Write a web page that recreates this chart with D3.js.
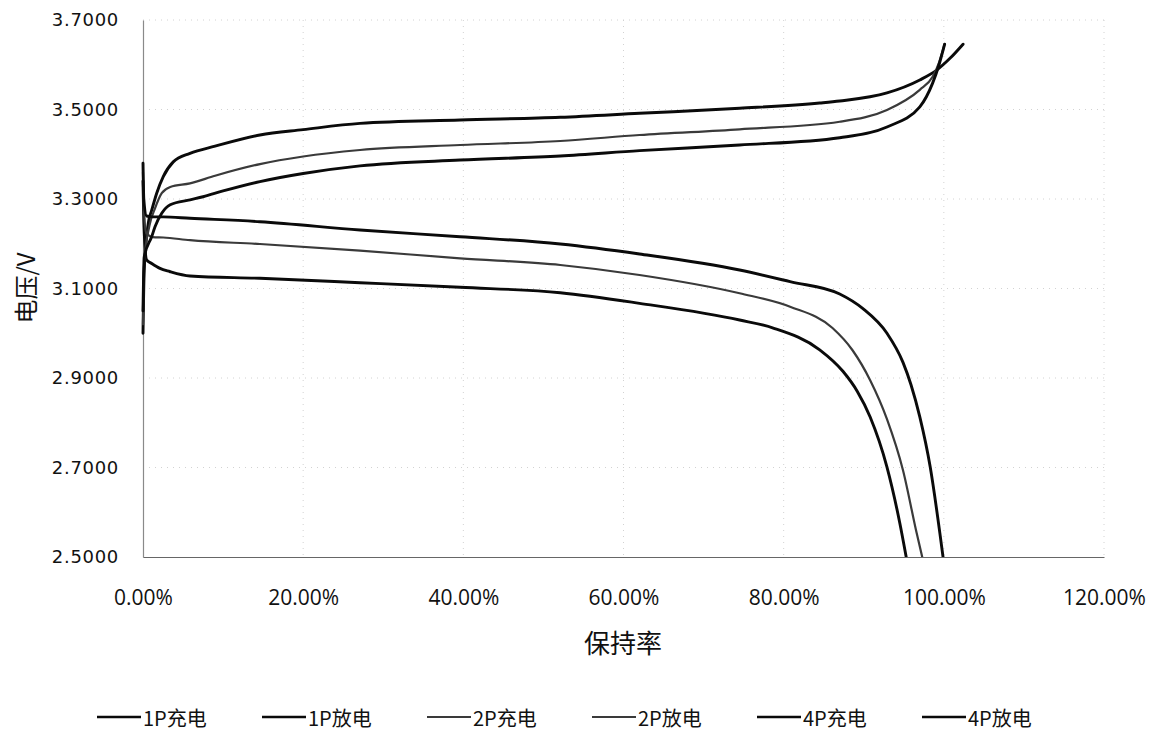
<!DOCTYPE html>
<html>
<head>
<meta charset="utf-8">
<script src="https://cdn.jsdelivr.net/npm/d3@7"></script>
<style>
  html, body { margin: 0; padding: 0; background: #fff; }
  svg { display: block; }
</style>
</head>
<body>
<svg id="chart" width="1155" height="735"></svg>
<script>
// Retention (%) vs. voltage (V) for charge / discharge at 1P, 2P and 4P
const xTicks = [0, 20, 40, 60, 80, 100, 120];
const yTicks = [2.5, 2.7, 2.9, 3.1, 3.3, 3.5, 3.7];

const charge1P = [[0,3.00],[0.15,3.14],[0.66,3.246],[1.09,3.275],[1.71,3.313],[2.53,3.350],[3.78,3.383],[5.87,3.402],[9,3.418],[14.6,3.443],[20,3.455],[27.1,3.469],[39.6,3.4765],[52.1,3.4826],[62.0,3.4915],[74.5,3.5027],[84.5,3.5145],[87.0,3.519],[92.9,3.537],[97.0,3.566],[99.1,3.588],[100.8,3.615],[102.4,3.646]];
const discharge1P = [[0,3.34],[0.1,3.25],[0.45,3.164],[1.09,3.156],[2.12,3.145],[3.33,3.138],[5.87,3.128],[14.6,3.1228],[27.1,3.113],[39.6,3.1027],[52.1,3.0906],[62.0,3.0669],[74.5,3.0296],[78.7,3.0117],[84.5,2.963],[87.4,2.915],[89.2,2.87],[90.8,2.813],[92.9,2.701],[94.5,2.576],[95.3,2.5]];
const charge2P = [[0,3.02],[0.15,3.16],[0.8,3.24],[1.5,3.279],[2.34,3.313],[3.4,3.327],[5.87,3.335],[9,3.352],[14.6,3.378],[20,3.395],[27.1,3.4095],[39.6,3.4207],[52.1,3.4296],[62.0,3.443],[74.5,3.4558],[87.0,3.4727],[92.9,3.499],[97.0,3.544],[98.6,3.573],[99.4,3.605],[100.1,3.646]];
const discharge2P = [[0,3.36],[0.1,3.28],[0.4,3.225],[1.2,3.215],[2.53,3.214],[5.87,3.208],[14.6,3.1994],[27.1,3.1845],[39.6,3.1675],[52.1,3.1525],[62.0,3.1302],[74.5,3.0893],[80.8,3.0593],[86.1,3.0117],[88.6,2.962],[90.8,2.895],[92.9,2.808],[94.9,2.694],[96.6,2.554],[97.3,2.5]];
const charge4P = [[0,3.05],[0.15,3.17],[1.09,3.216],[1.5,3.238],[2.34,3.268],[3.4,3.287],[5.87,3.298],[7.5,3.305],[10,3.318],[14.6,3.339],[20,3.357],[27.1,3.374],[39.6,3.387],[52.1,3.396],[62.0,3.408],[74.5,3.4207],[87.0,3.437],[92.9,3.461],[97.0,3.506],[98.6,3.559],[99.4,3.60],[100.1,3.646]];
const discharge4P = [[0,3.38],[0.1,3.30],[0.45,3.262],[1.3,3.26],[2.53,3.260],[5.87,3.257],[14.6,3.2493],[27.1,3.2307],[39.6,3.2158],[52.1,3.1994],[62.0,3.1771],[74.5,3.1413],[80.8,3.1152],[87.0,3.0877],[89.9,3.055],[92.9,3.000],[94.9,2.935],[95.9,2.885],[97.0,2.813],[98.3,2.701],[99.5,2.554],[99.9,2.5]];

const seriesNames = ["1P充电", "1P放电", "2P充电", "2P放电", "4P充电", "4P放电"];
const seriesData = [charge1P, discharge1P, charge2P, discharge2P, charge4P, discharge4P];

const series = seriesNames.map((name, i) => ({
  name,
  values: seriesData[i],
  color: name.startsWith("2P") ? "#3a3a3a" : "#0a0a0a",
  width: name.startsWith("2P") ? 2.2 : 2.9
}));

const svg = d3.select("#chart");
const plot = { left: 143, right: 1104, top: 20, bottom: 557 };

const x = d3.scaleLinear().domain([0, 120]).range([plot.left, plot.right]);
const y = d3.scaleLinear().domain([2.5, 3.7]).range([plot.bottom, plot.top]);

// faint dotted gridlines
const grid = svg.append("g").attr("stroke", "#d2d2d2").attr("stroke-width", 1)
  .attr("stroke-dasharray", "1,5");
grid.selectAll("line.h").data(yTicks.filter(d => d !== 2.5)).join("line")
  .attr("x1", plot.left).attr("x2", plot.right)
  .attr("y1", d => y(d)).attr("y2", d => y(d));
grid.selectAll("line.v").data(xTicks.filter(d => d !== 0)).join("line")
  .attr("y1", plot.top).attr("y2", plot.bottom)
  .attr("x1", d => x(d)).attr("x2", d => x(d));

// axes
const yAxis = d3.axisLeft(y).tickValues(yTicks).tickSize(0).tickPadding(24)
  .tickFormat(d3.format(".4f"));
const xAxis = d3.axisBottom(x).tickValues(xTicks).tickSize(0).tickPadding(33)
  .tickFormat(d => d3.format(".2f")(d) + "%");

const gy = svg.append("g").attr("transform", `translate(${plot.left},0)`).call(yAxis);
gy.select(".domain").attr("stroke", "#8a8a8a").attr("stroke-width", 1.2);
gy.selectAll("text").attr("font-family", "DejaVu Sans, sans-serif").attr("font-size", 18)
  .attr("letter-spacing", 0.7).attr("fill", "#111");

const gx = svg.append("g").attr("transform", `translate(0,${plot.bottom})`).call(xAxis);
gx.select(".domain").attr("stroke", "#666").attr("stroke-width", 1.2);
gx.selectAll("text").attr("font-family", "Open Sans, sans-serif").attr("font-size", 21)
  .attr("fill", "#111");

// axis titles
svg.append("text")
  .attr("transform", "translate(24,288) rotate(-90)")
  .attr("text-anchor", "middle").attr("dominant-baseline", "central")
  .attr("font-family", "Noto Sans CJK SC, sans-serif").attr("font-size", 24)
  .attr("fill", "#111").text("电压/V");

svg.append("text")
  .attr("x", 623).attr("y", 641)
  .attr("text-anchor", "middle").attr("dominant-baseline", "central")
  .attr("font-family", "Noto Sans CJK SC, sans-serif").attr("font-size", 26)
  .attr("fill", "#111").text("保持率");

// curves
svg.append("clipPath").attr("id", "plot-clip").append("rect")
  .attr("x", plot.left - 2).attr("y", plot.top - 2)
  .attr("width", plot.right - plot.left + 4).attr("height", plot.bottom - plot.top + 2);

const line = d3.line().x(d => x(d[0])).y(d => y(d[1])).curve(d3.curveMonotoneX);

svg.append("g").attr("clip-path", "url(#plot-clip)")
  .selectAll("path").data(series).join("path")
  .attr("d", d => line(d.values))
  .attr("fill", "none")
  .attr("stroke", d => d.color)
  .attr("stroke-width", d => d.width)
  .attr("stroke-linejoin", "round")
  .attr("stroke-linecap", "round");

// legend
const legend = svg.append("g").attr("transform", "translate(97,717)");
const item = legend.selectAll("g").data(series).join("g")
  .attr("transform", (d, i) => `translate(${i * 165},0)`);
item.append("line").attr("x1", 0).attr("x2", 44).attr("y1", 0).attr("y2", 0)
  .attr("stroke", d => d.color).attr("stroke-width", d => d.width - 0.4);
item.append("text").attr("x", 46).attr("y", 0)
  .attr("dominant-baseline", "central")
  .attr("font-family", "Noto Sans CJK SC, sans-serif").attr("font-size", 20)
  .attr("fill", "#111").text(d => d.name);
</script>
</body>
</html>
